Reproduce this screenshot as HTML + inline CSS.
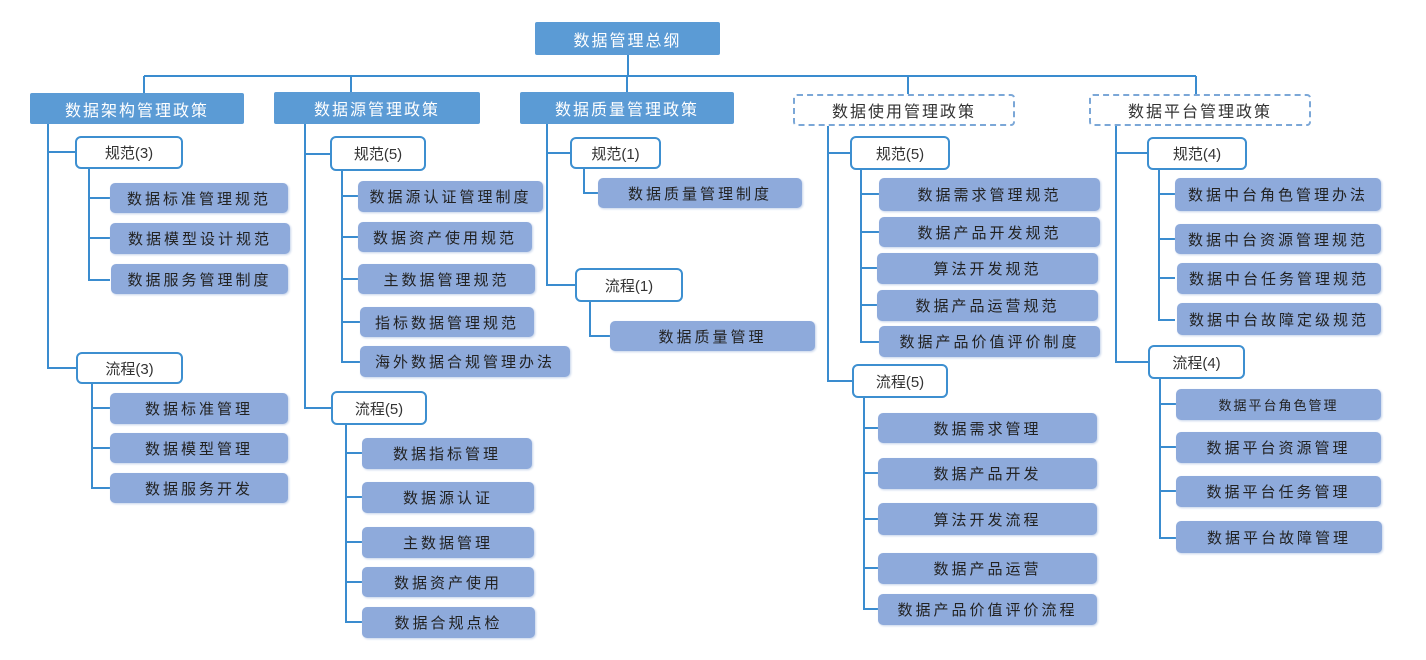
<!DOCTYPE html>
<html><head><meta charset="utf-8"><style>
body{margin:0;width:1426px;height:660px;background:#fff;position:relative;overflow:hidden;font-family:"Liberation Sans","Noto Sans CJK SC",sans-serif}
.b{position:absolute;box-sizing:border-box;display:flex;align-items:center;justify-content:center;white-space:nowrap}
.h{background:#5b9bd5;color:#fff;font-size:16px;letter-spacing:2px;border-radius:2px}
.d{border:2px dashed #7ba7d7;color:#333;font-size:16px;letter-spacing:2px;border-radius:4px;background:#fff}
.g{background:#fff;border:2px solid #3d8fd0;border-radius:6px;color:#333;font-size:15px}
.l{background:#8eaadb;color:#222;font-size:15px;letter-spacing:3px;border-radius:5px;box-shadow:1px 1px 2px #c5d3ea}
svg{position:absolute;left:0;top:0}
</style></head><body>
<svg width="1426" height="660" fill="none" stroke="#3a8ccf" stroke-width="2">
<path d="M628 55V76M144 76H1196M144 76V93M351 76V92M627 76V92M908 76V94M1196 76V94"/>
<!-- A -->
<path d="M48 124V368H76M48 152H75M89 169V280H110M89 198H110M89 238H110M92 383V488H110M92 408H110M92 448H110"/>
<!-- B -->
<path d="M305 124V408H332M305 154H330M342 171V362H360M342 196H358M342 237H358M342 279H358M342 322H360M346 425V622H362M346 453H362M346 497H362M346 542H362M346 582H362"/>
<!-- C -->
<path d="M547 124V285H575M547 153H570M584 169V193H598M590 302V336H610"/>
<!-- D -->
<path d="M828 126V381H852M828 153H850M861 170V342H879M861 194H879M861 232H879M861 268H879M861 305H879M864 398V609H878M864 428H878M864 473H878M864 519H878M864 568H878"/>
<!-- E -->
<path d="M1116 126V362H1148M1116 153H1147M1159 170V320H1175M1159 194H1175M1159 239H1175M1159 278H1175M1160 379V538H1176M1160 404H1176M1160 447H1176M1160 491H1176"/>
</svg>
<div class="b h" style="left:535px;top:22px;width:185px;height:33px">数据管理总纲</div>
<div class="b h" style="left:30px;top:93px;width:214px;height:31px">数据架构管理政策</div>
<div class="b h" style="left:274px;top:92px;width:206px;height:32px">数据源管理政策</div>
<div class="b h" style="left:520px;top:92px;width:214px;height:32px">数据质量管理政策</div>
<div class="b d" style="left:793px;top:94px;width:222px;height:32px">数据使用管理政策</div>
<div class="b d" style="left:1089px;top:94px;width:222px;height:32px">数据平台管理政策</div>

<div class="b g" style="left:75px;top:136px;width:108px;height:33px">规范(3)</div>
<div class="b l" style="left:110px;top:183px;width:178px;height:30px">数据标准管理规范</div>
<div class="b l" style="left:110px;top:223px;width:180px;height:31px">数据模型设计规范</div>
<div class="b l" style="left:111px;top:264px;width:177px;height:30px">数据服务管理制度</div>
<div class="b g" style="left:76px;top:352px;width:107px;height:32px">流程(3)</div>
<div class="b l" style="left:110px;top:393px;width:178px;height:31px">数据标准管理</div>
<div class="b l" style="left:110px;top:433px;width:178px;height:30px">数据模型管理</div>
<div class="b l" style="left:110px;top:473px;width:178px;height:30px">数据服务开发</div>

<div class="b g" style="left:330px;top:136px;width:96px;height:35px">规范(5)</div>
<div class="b l" style="left:358px;top:181px;width:185px;height:31px">数据源认证管理制度</div>
<div class="b l" style="left:358px;top:222px;width:174px;height:30px">数据资产使用规范</div>
<div class="b l" style="left:358px;top:264px;width:177px;height:30px">主数据管理规范</div>
<div class="b l" style="left:360px;top:307px;width:174px;height:30px">指标数据管理规范</div>
<div class="b l" style="left:360px;top:346px;width:210px;height:31px">海外数据合规管理办法</div>
<div class="b g" style="left:331px;top:391px;width:96px;height:34px">流程(5)</div>
<div class="b l" style="left:362px;top:438px;width:170px;height:31px">数据指标管理</div>
<div class="b l" style="left:362px;top:482px;width:172px;height:31px">数据源认证</div>
<div class="b l" style="left:362px;top:527px;width:172px;height:31px">主数据管理</div>
<div class="b l" style="left:362px;top:567px;width:172px;height:30px">数据资产使用</div>
<div class="b l" style="left:362px;top:607px;width:173px;height:31px">数据合规点检</div>

<div class="b g" style="left:570px;top:137px;width:91px;height:32px">规范(1)</div>
<div class="b l" style="left:598px;top:178px;width:204px;height:30px">数据质量管理制度</div>
<div class="b g" style="left:575px;top:268px;width:108px;height:34px">流程(1)</div>
<div class="b l" style="left:610px;top:321px;width:205px;height:30px">数据质量管理</div>

<div class="b g" style="left:850px;top:136px;width:100px;height:34px">规范(5)</div>
<div class="b l" style="left:879px;top:178px;width:221px;height:33px">数据需求管理规范</div>
<div class="b l" style="left:879px;top:217px;width:221px;height:30px">数据产品开发规范</div>
<div class="b l" style="left:877px;top:253px;width:221px;height:31px">算法开发规范</div>
<div class="b l" style="left:877px;top:290px;width:221px;height:31px">数据产品运营规范</div>
<div class="b l" style="left:879px;top:326px;width:221px;height:31px">数据产品价值评价制度</div>
<div class="b g" style="left:852px;top:364px;width:96px;height:34px">流程(5)</div>
<div class="b l" style="left:878px;top:413px;width:219px;height:30px">数据需求管理</div>
<div class="b l" style="left:878px;top:458px;width:219px;height:31px">数据产品开发</div>
<div class="b l" style="left:878px;top:503px;width:219px;height:32px">算法开发流程</div>
<div class="b l" style="left:878px;top:553px;width:219px;height:31px">数据产品运营</div>
<div class="b l" style="left:878px;top:594px;width:219px;height:31px">数据产品价值评价流程</div>

<div class="b g" style="left:1147px;top:137px;width:100px;height:33px">规范(4)</div>
<div class="b l" style="left:1175px;top:178px;width:206px;height:33px">数据中台角色管理办法</div>
<div class="b l" style="left:1175px;top:224px;width:206px;height:30px">数据中台资源管理规范</div>
<div class="b l" style="left:1177px;top:263px;width:204px;height:31px">数据中台任务管理规范</div>
<div class="b l" style="left:1177px;top:303px;width:204px;height:32px">数据中台故障定级规范</div>
<div class="b g" style="left:1148px;top:345px;width:97px;height:34px">流程(4)</div>
<div class="b l" style="left:1176px;top:389px;width:205px;height:31px;font-size:13px;letter-spacing:2px">数据平台角色管理</div>
<div class="b l" style="left:1176px;top:432px;width:205px;height:31px">数据平台资源管理</div>
<div class="b l" style="left:1176px;top:476px;width:205px;height:31px">数据平台任务管理</div>
<div class="b l" style="left:1176px;top:521px;width:206px;height:32px">数据平台故障管理</div>
</body></html>
